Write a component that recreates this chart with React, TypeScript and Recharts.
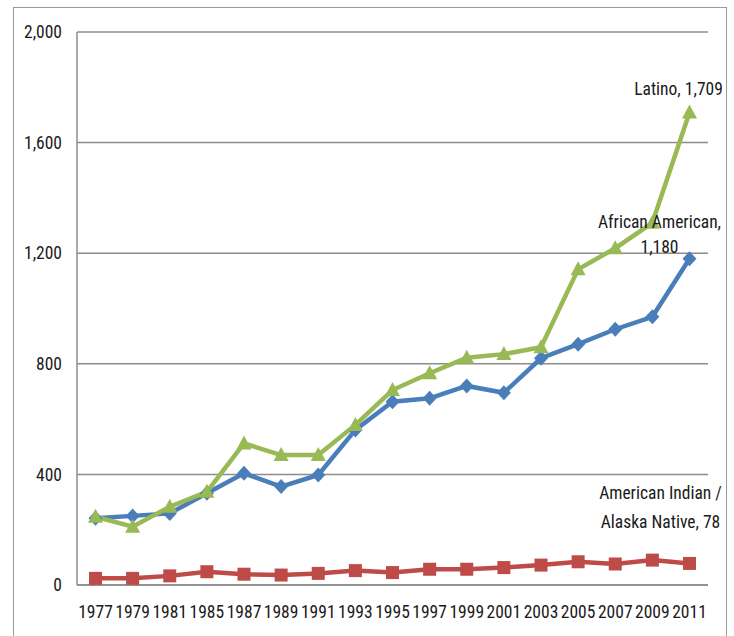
import React from 'react';
import { LineChart, Line, XAxis, YAxis, CartesianGrid, LabelList } from 'recharts';

const years = ['1977', '1979', '1981', '1985', '1987', '1989', '1991', '1993', '1995', '1997', '1999', '2001', '2003', '2005', '2007', '2009', '2011'];
const africanAmerican = [241, 250, 259, 332, 404, 356, 398, 561, 663, 675, 720, 695, 820, 871, 925, 970, 1180];
const americanIndian = [24, 24, 33, 48, 39, 36, 42, 52, 45, 57, 57, 63, 72, 84, 76, 90, 78];
const latino = [247, 211, 283, 337, 512, 470, 470, 579, 705, 766, 822, 835, 860, 1142, 1218, 1310, 1709];
const yTicks = [0, 400, 800, 1200, 1600, 2000];

const data = years.map((year, i) => ({
  year,
  africanAmerican: africanAmerican[i],
  americanIndian: americanIndian[i],
  latino: latino[i],
}));

const FONT = '"Liberation Sans Narrow", "Arial Narrow", "Roboto Condensed", sans-serif';
const FONT_SIZE = 17.5;
const TEXT = '#1a1a1a';
const BLUE = '#4a7ebb';
const RED = '#be4b48';
const GREEN = '#98b954';
const last = years.length - 1;

const fmt = (v: number) => v.toLocaleString('en-US');

const diamond = (color: string) => (p: any) => {
  const { cx, cy, index } = p;
  return (
    <path
      key={`d-${index}`}
      d={`M${cx},${cy - 7.5} L${cx + 7},${cy} L${cx},${cy + 7.5} L${cx - 7},${cy} Z`}
      fill={color}
    />
  );
};

const square = (color: string) => (p: any) => {
  const { cx, cy, index } = p;
  return <rect key={`s-${index}`} x={cx - 6.5} y={cy - 6.5} width={13} height={13} fill={color} />;
};

const triangle = (color: string) => (p: any) => {
  const { cx, cy, index } = p;
  return (
    <path
      key={`t-${index}`}
      d={`M${cx},${cy - 8} L${cx + 7.5},${cy + 6} L${cx - 7.5},${cy + 6} Z`}
      fill={color}
    />
  );
};

// end-of-line labels: each line is [text, dx, dy] relative to the last point
const endLabel = (lines: [string, number, number][]) => (p: any) => {
  if (p.index !== last) return null;
  const { x, y } = p;
  return (
    <g>
      {lines.map(([t, dx, dy], i) => (
        <text
          key={i}
          x={x + dx}
          y={y + dy}
          textAnchor="middle"
          dominantBaseline="central"
          fontFamily={FONT}
          fontSize={FONT_SIZE}
          fill={TEXT}
        >
          {t}
        </text>
      ))}
    </g>
  );
};

export default function App() {
  return (
    <div style={{ position: 'absolute', left: 0, top: 0, width: 734, height: 636, background: '#fff' }}>
      <div
        style={{
          position: 'absolute',
          left: 13,
          top: 7,
          width: 714,
          height: 660,
          border: '1px solid #9a9a9a',
          boxSizing: 'border-box',
        }}
      />
      <div style={{ position: 'absolute', left: 0, top: 0 }}>
        <LineChart
          width={734}
          height={636}
          data={data}
          margin={{ top: 32, right: 26, bottom: 21, left: 17 }}
        >
          <CartesianGrid vertical={false} stroke="#8c8c8c" strokeWidth={1.5} />
          <XAxis
            dataKey="year"
            padding={{ left: 18.5, right: 18.5 }}
            height={30}
            axisLine={{ stroke: '#8c8c8c', strokeWidth: 1.5 }}
            tickLine={false}
            tickSize={0}
            tickMargin={21}
            interval={0}
            tick={{ fontFamily: FONT, fontSize: FONT_SIZE, fill: TEXT }}
          />
          <YAxis
            width={60}
            domain={[0, 2000]}
            ticks={yTicks}
            tickFormatter={fmt}
            axisLine={{ stroke: '#8c8c8c', strokeWidth: 1.5 }}
            tickLine={false}
            tickSize={0}
            tickMargin={15}
            tick={{ fontFamily: FONT, fontSize: FONT_SIZE, fill: TEXT }}
          />
          <Line
            dataKey="africanAmerican"
            stroke={BLUE}
            strokeWidth={4.5}
            dot={diamond(BLUE)}
            activeDot={false}
            isAnimationActive={false}
          >
            <LabelList
              dataKey="africanAmerican"
              content={endLabel([
                ['African American,', -30, -37],
                [fmt(africanAmerican[last]), -30, -12],
              ])}
            />
          </Line>
          <Line
            dataKey="americanIndian"
            stroke={RED}
            strokeWidth={4.5}
            dot={square(RED)}
            activeDot={false}
            isAnimationActive={false}
          >
            <LabelList
              dataKey="americanIndian"
              content={endLabel([
                ['American Indian /', -29, -70],
                [`Alaska Native, ${americanIndian[last]}`, -29, -41],
              ])}
            />
          </Line>
          <Line
            dataKey="latino"
            stroke={GREEN}
            strokeWidth={4.5}
            dot={triangle(GREEN)}
            activeDot={false}
            isAnimationActive={false}
          >
            <LabelList
              dataKey="latino"
              content={endLabel([[`Latino, ${fmt(latino[last])}`, -11, -23]])}
            />
          </Line>
        </LineChart>
      </div>
    </div>
  );
}
